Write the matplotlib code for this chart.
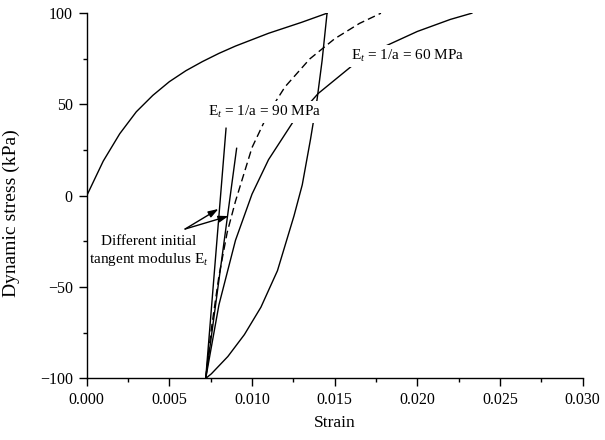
import matplotlib
matplotlib.use("Agg")
import matplotlib.pyplot as plt
from matplotlib.ticker import MultipleLocator

plt.rcParams['font.family'] = ['Liberation Serif', 'DejaVu Serif']
plt.rcParams['mathtext.fontset'] = 'custom'
plt.rcParams['mathtext.rm'] = 'Liberation Serif'
plt.rcParams['mathtext.it'] = 'Liberation Serif:italic'

# backbone (first loading) curve
load_x = [0, 0.001, 0.002, 0.003, 0.004, 0.005, 0.006, 0.007, 0.008,
          0.009, 0.010, 0.011, 0.012, 0.013, 0.01454]
load_y = [0, 19, 34, 46, 55, 62.5, 68.5, 73.5, 78, 82, 85.5, 89, 92, 95, 100]

# unloading curve from the peak
unload_x = [0.01454, 0.01424, 0.01394, 0.01354, 0.01304, 0.01254, 0.01154,
            0.01054, 0.00954, 0.00854, 0.00754, 0.0072]
unload_y = [100, 74, 53, 31, 6, -11, -41, -61, -76, -88, -97.5, -100]

# reloading curve, Et = 60 MPa
re60_x = [0.0072, 0.0080, 0.0090, 0.0100, 0.0110, 0.0125, 0.0140, 0.0160,
          0.0180, 0.0200, 0.0220, 0.0233]
re60_y = [-100, -59.7, -24.4, 0.9, 19.8, 40.7, 56, 70.8, 81.7, 90, 96.6, 100]

# reloading curve, Et = 90 MPa (dashed)
re90_x = [0.0072, 0.0075, 0.0080, 0.0085, 0.0090, 0.0100, 0.0110, 0.0120,
          0.0135, 0.0150, 0.0165, 0.0178]
re90_y = [-100, -75.6, -43.9, -20, -3, 26.4, 45.5, 59.7, 75, 86, 94.4, 100]

# initial tangent lines
tan90_x = [0.0072, 0.00843]
tan90_y = [-100, 37]
tan60_x = [0.0072, 0.00907]
tan60_y = [-100, 26]

fig = plt.figure(figsize=(6.05, 4.4), dpi=100)
ax = fig.add_axes([0.1433, 0.140, 0.8197, 0.830])

lw = 1.0
ax.plot(load_x, load_y, color='black', lw=lw)
ax.plot(unload_x, unload_y, color='black', lw=lw)
ax.plot(re60_x, re60_y, color='black', lw=lw)
ax.plot(re90_x, re90_y, color='black', lw=lw, ls=(0, (5.5, 3)))
ax.plot(tan90_x, tan90_y, color='black', lw=lw)
ax.plot(tan60_x, tan60_y, color='black', lw=lw)

ax.text(0.01078, 45.9, r'E$_{\mathit{t}}$ = 1/a = 90 MPa', ha='center', va='center',
        fontsize=11, bbox=dict(facecolor='white', edgecolor='none', pad=2))
ax.text(0.0194, 76.6, r'E$_{\mathit{t}}$ = 1/a = 60 MPa', ha='center', va='center',
        fontsize=11, bbox=dict(facecolor='white', edgecolor='none', pad=2))
ax.text(0.00377, -30.6, 'Different initial\ntangent modulus E$_{\\mathit{t}}$',
        ha='center', va='center', fontsize=11, linespacing=1.3)

for hx, hy in [(0.00797, -7.2), (0.00858, -11.1)]:
    ax.annotate('', xy=(hx, hy), xytext=(0.00595, -18.2),
                arrowprops=dict(arrowstyle='-|>,head_length=0.6,head_width=0.2',
                                color='black', lw=1.0, shrinkA=0, shrinkB=0))

ax.set_xlim(0, 0.030)
ax.set_ylim(-100, 100)
ax.xaxis.set_major_locator(MultipleLocator(0.005))
ax.xaxis.set_minor_locator(MultipleLocator(0.0025))
ax.yaxis.set_major_locator(MultipleLocator(50))
ax.yaxis.set_minor_locator(MultipleLocator(25))
ax.set_xticklabels(['%.3f' % v for v in ax.get_xticks()])
ax.set_yticks([-100, -50, 0, 50, 100])
ax.set_yticklabels(['\u2212100', '\u221250', '0', '50', '100'])
ax.tick_params(which='major', direction='out', length=6, width=1.0, labelsize=11.5, pad=4)
ax.tick_params(which='minor', direction='out', length=3, width=1.0)
for s in ['top', 'right']:
    ax.spines[s].set_visible(False)
for s in ['left', 'bottom']:
    ax.spines[s].set_linewidth(1.0)

ax.set_xlabel('Strain', fontsize=12.5)
ax.xaxis.set_label_coords(0.5, -0.1)
ax.set_ylabel('Dynamic stress (kPa)', fontsize=14)
ax.yaxis.set_label_coords(-0.135, 0.453)

fig.savefig('out.png', dpi=100)
